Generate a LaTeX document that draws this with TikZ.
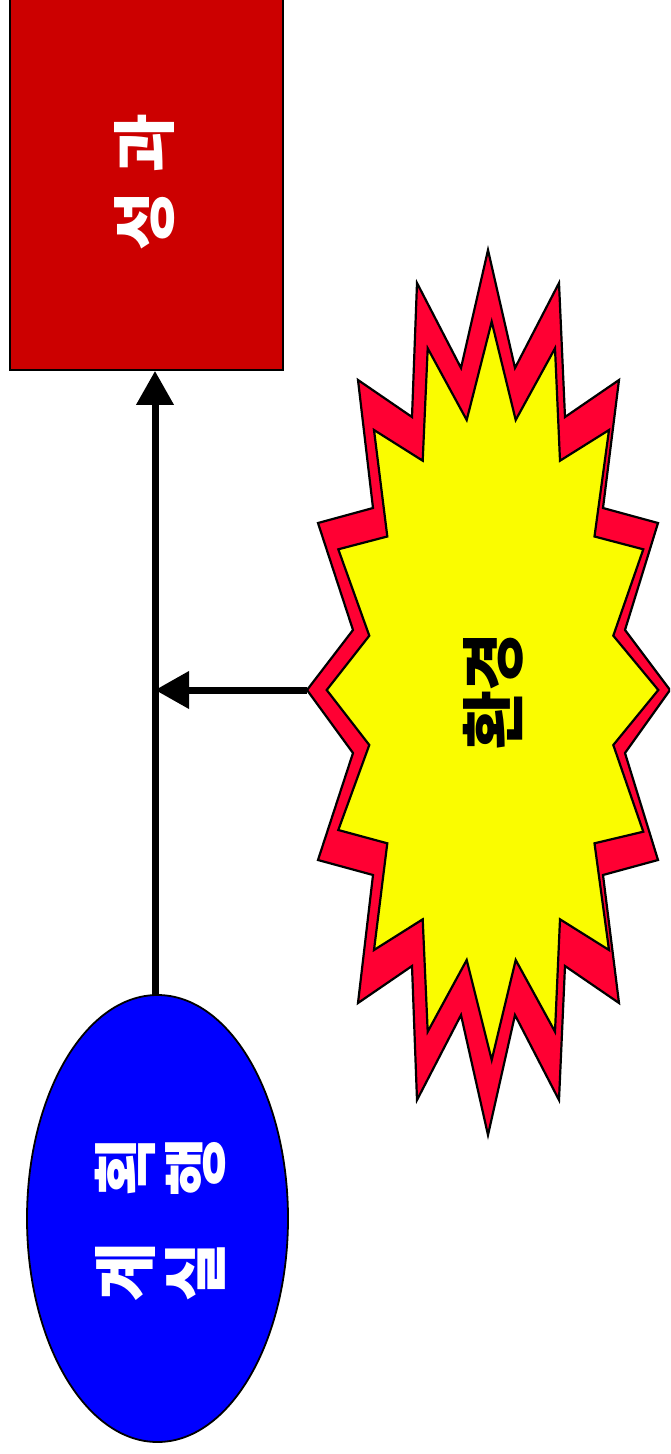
\documentclass[tikz,border=0pt]{standalone}
\usepackage{fontspec}
\newfontfamily\kr{Noto Sans CJK KR}
\usetikzlibrary{arrows.meta,shapes.geometric}
\definecolor{boxred}{RGB}{204,0,0}
\definecolor{planblue}{RGB}{0,0,255}
\definecolor{burstred}{RGB}{255,0,51}
\definecolor{burstyellow}{RGB}{250,252,0}
\tikzset{
  shapeline/.style={draw=black,line width=1.8pt},
  burstline/.style={draw=black,line width=2.2pt,line join=miter},
  bigtext/.style={font=\kr\bfseries\fontsize{64}{70}\selectfont,rotate=90,inner sep=0pt,align=center},
  flow/.style={line width=7pt,-{Triangle[width=36pt,length=34pt]}}
}
\begin{document}
\begin{tikzpicture}[x=1pt,y=-1pt]
\useasboundingbox (0,0) rectangle (670,1454);
\clip (0,0) rectangle (670,1454);
% result box
\node[shapeline,fill=boxred,minimum width=273pt,minimum height=380pt,inner sep=0pt] (result) at (146.5,180) {};
\node[bigtext,text=white] (resulttext) at (145,182) {성\hspace{0.3em}과};
% plan ellipse
\node[shapeline,fill=planblue,ellipse,minimum width=261pt,minimum height=447pt,inner sep=0pt] (plan) at (157.5,1218.5) {};
\node[bigtext,text=white] (plantext) at (160,1220) {계\hspace{0.72em}획\\실\hspace{0.72em}행};
% environment burst
\filldraw[burstline,fill=burstred] (488,250) -- (515,368) -- (559,283) -- (565,417) -- (619,380) -- (603,508) -- (658,523) -- (625,630) -- (670,690) -- (625,753) -- (658,860) -- (603,875) -- (619,1003) -- (565,966) -- (559,1100) -- (515,1015) -- (488,1135) -- (461,1015) -- (417,1100) -- (412,966) -- (358,1003) -- (373,875) -- (318,860) -- (353,753) -- (307,690) -- (353,630) -- (318,523) -- (373,508) -- (358,380) -- (412,417) -- (417,283) -- (461,368) -- cycle;
\filldraw[burstline,fill=burstyellow] (491.7,321.7) -- (515.7,420) -- (555,348.3) -- (560,460.7) -- (609,430) -- (594.5,536.5) -- (643.3,549.3) -- (613.3,635.7) -- (658.3,690) -- (613.3,745) -- (643.3,831.7) -- (594.5,843.3) -- (609,950) -- (560,919.3) -- (555,1031.7) -- (515.7,960) -- (491.7,1060) -- (466.7,960) -- (427.7,1031.7) -- (422.7,919.3) -- (374,950) -- (387.3,843.3) -- (338.3,830) -- (369.3,745) -- (326.7,690) -- (369.3,635.7) -- (338.3,549.3) -- (387.3,536.5) -- (374,430) -- (422.7,460.7) -- (427.7,348.3) -- (466.7,420) -- cycle;
\coordinate (envtip) at (307,690);
\node[bigtext,text=black] (envtext) at (493,691) {환경};
% connectors
\coordinate (trunk) at (155,995);
\draw[flow] (trunk) -- (trunk |- result.south);
\draw[flow] (envtip) -- (envtip -| trunk);
\end{tikzpicture}
\end{document}
